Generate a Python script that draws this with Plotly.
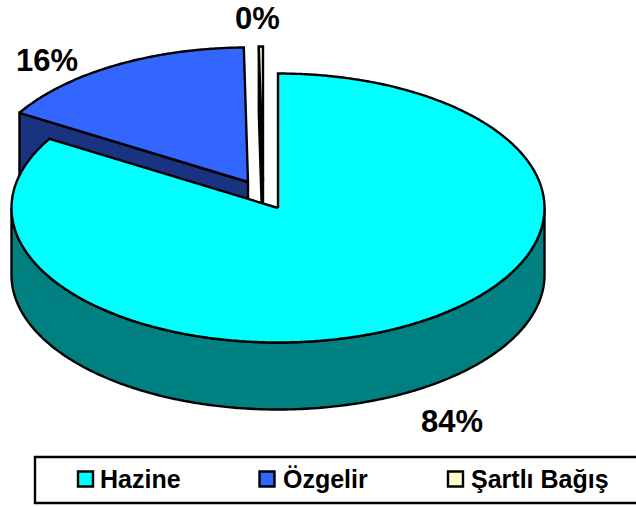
import numpy as np
import plotly.graph_objects as go

categories = ["Hazine", "Özgelir", "Şartlı Bağış"]
values = [83.6, 16.15, 0.25]
top_colors = ["#00FFFF", "#3366FF", "#FFFFCC"]
side_colors = ["#008080", "#1A3380", "#808066"]

W, H = 636, 507
CX, CY, RX, RY, DEPTH = 278, 208, 266.5, 134.5, 67
offsets = [(0, 0), (-30, -26), (-15, -27)]  # exploded slices

# slice angles (clockwise from 12 o'clock) derived from the values
edges = np.concatenate([[0], np.cumsum(values)]) / sum(values) * 360


def rim(a0, a1, ox, oy, dz=0):
    t = np.radians(np.linspace(a0, a1, max(int(abs(a1 - a0) * 2), 2)))
    return CX + ox + RX * np.sin(t), CY + oy + dz - RY * np.cos(t)


def poly(fig, x, y, color):
    fig.add_trace(go.Scatter(
        x=list(x), y=list(y), mode="lines", fill="toself", fillcolor=color,
        line=dict(color="black", width=2.4, simplify=False), hoverinfo="skip",
        showlegend=False))


def cut_face(fig, angle, ox, oy, color):
    xr, yr = rim(angle, angle, ox, oy)
    ax, ay = CX + ox, CY + oy
    poly(fig, [ax, xr[0], xr[0], ax, ax],
         [ay, yr[0], yr[0] + DEPTH, ay + DEPTH, ay], color)


def top_face(fig, a0, a1, ox, oy, color):
    xr, yr = rim(a0, a1, ox, oy)
    ax, ay = CX + ox, CY + oy
    poly(fig, [ax, *xr, ax], [ay, *yr, ay], color)


fig = go.Figure()

# exploded back slices first, then the large front slice
for i in (1, 2):
    ox, oy = offsets[i]
    cut_face(fig, edges[i], ox, oy, side_colors[i])
    top_face(fig, edges[i], edges[i + 1], ox, oy, top_colors[i])

xs, ys = rim(90, 270, 0, 0)
xb, yb = rim(270, 90, 0, 0, DEPTH)
poly(fig, [*xs, *xb, xs[0]], [*ys, *yb, ys[0]], side_colors[0])
top_face(fig, edges[0], edges[1], 0, 0, top_colors[0])

# percentage labels
label_pos = [(452, 421), (47, 60), (257, 18)]
annotations = [
    dict(x=x, y=y, text=f"{round(v)}%", showarrow=False, xref="x", yref="y",
         font=dict(family="Liberation Sans", size=31, color="black",
                   weight="bold"))
    for v, (x, y) in zip(values, label_pos)
]

# legend
swatch_x = [85.5, 267, 455.5]
text_x = [98, 281, 469]
LEG_Y = 479
fig.add_trace(go.Scatter(
    x=swatch_x, y=[LEG_Y] * 3, mode="markers", hoverinfo="skip", showlegend=False,
    marker=dict(symbol="square", size=15, color=top_colors,
                line=dict(color="black", width=2.4))))
for name, x in zip(categories, text_x):
    annotations.append(dict(
        x=x, y=LEG_Y, text=name, showarrow=False, xanchor="left", xref="x", yref="y",
        font=dict(family="Liberation Sans", size=25, color="black", weight="bold")))

fig.update_layout(
    width=W, height=H, margin=dict(l=0, r=0, t=0, b=0),
    paper_bgcolor="white", plot_bgcolor="white", showlegend=False,
    xaxis=dict(range=[0, W], visible=False, fixedrange=True),
    yaxis=dict(range=[H, 0], visible=False, fixedrange=True),
    annotations=annotations,
    shapes=[dict(type="rect", xref="x", yref="y", x0=35, x1=W + 20, y0=457, y1=503,
                 line=dict(color="black", width=2.4), fillcolor="white", layer="below")],
)
fig.write_html("out.html", config={"displayModeBar": False},
               post_script="document.body.style.margin='0';document.body.style.overflow='hidden';")
